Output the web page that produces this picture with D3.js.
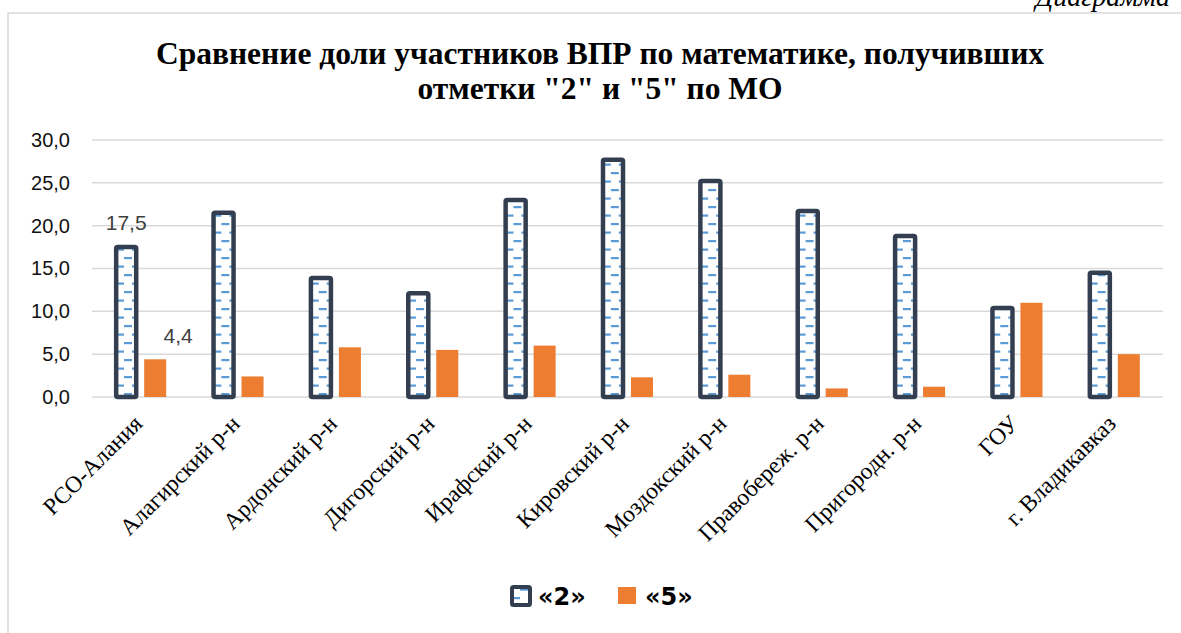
<!DOCTYPE html>
<html>
<head>
<meta charset="utf-8">
<script src="https://cdn.jsdelivr.net/npm/d3@7"></script>
<style>
  html, body { margin: 0; padding: 0; background: #fff; }
  svg { display: block; }
</style>
</head>
<body>
<svg id="chart" width="1181" height="633"></svg>
<script>
const categories = ['РСО-Алания', 'Алагирский р-н', 'Ардонский р-н', 'Дигорский р-н', 'Ирафский р-н',
  'Кировский р-н', 'Моздокский р-н', 'Правобереж. р-н', 'Пригородн. р-н', 'ГОУ', 'г. Владикавказ'];
const seriesNames = ['«2»', '«5»'];
const values2 = [17.5, 21.5, 13.9, 12.1, 23.0, 27.7, 25.2, 21.7, 18.8, 10.4, 14.5];
const values5 = [4.4, 2.4, 5.8, 5.5, 6.0, 2.3, 2.6, 1.0, 1.2, 11.0, 5.0];
const yTicks = [0, 5, 10, 15, 20, 25, 30];
const titleLines = ['Сравнение доли участников ВПР по математике, получивших', 'отметки "2" и "5" по МО'];

const width = 1181;
const height = 633;
const margin = { top: 140, right: 18, bottom: 236, left: 92 };

const svg = d3.select('#chart');
const fmt = v => d3.format('.1f')(v).replace('.', ',');

const defs = svg.append('defs');
const pat = defs.append('pattern')
  .attr('id', 'dash')
  .attr('patternUnits', 'userSpaceOnUse')
  .attr('width', 16)
  .attr('height', 17);
pat.append('rect').attr('width', 16).attr('height', 17).attr('fill', '#fff');
pat.append('rect').attr('x', 0).attr('y', 2).attr('width', 8).attr('height', 2.2).attr('fill', '#5b9bd5');
pat.append('rect').attr('x', 8).attr('y', 10.5).attr('width', 8).attr('height', 2.2).attr('fill', '#5b9bd5');

// frame
svg.append('path')
  .attr('d', `M8,${height} V13 H${width}`)
  .attr('fill', 'none')
  .attr('stroke', '#d9d9d9')
  .attr('stroke-width', 1.5);

// caption of the page above, cut by the picture edge as in the original
svg.append('text')
  .attr('x', 1170)
  .attr('y', 6)
  .attr('text-anchor', 'end')
  .attr('font-family', 'Liberation Serif')
  .attr('font-style', 'italic')
  .attr('font-size', 28)
  .text('Диаграмма');

// title
svg.append('text')
  .attr('text-anchor', 'middle')
  .attr('font-family', 'Liberation Serif')
  .attr('font-weight', 'bold')
  .attr('font-size', 31.5)
  .selectAll('tspan')
  .data(titleLines)
  .join('tspan')
  .attr('x', 600)
  .attr('y', (d, i) => 64 + i * 35)
  .text(d => d);

const x0 = d3.scaleBand()
  .domain(categories)
  .range([margin.left, width - margin.right]);

const x1 = d3.scaleBand()
  .domain(seriesNames)
  .range([0, x0.bandwidth()])
  .paddingInner(0.24)
  .paddingOuter(0.8);

const y = d3.scaleLinear()
  .domain([0, 30])
  .range([397, margin.top]);

// grid
svg.append('g')
  .selectAll('line')
  .data(yTicks)
  .join('line')
  .attr('x1', margin.left)
  .attr('x2', width - margin.right)
  .attr('y1', d => y(d))
  .attr('y2', d => y(d))
  .attr('stroke', '#d9d9d9')
  .attr('stroke-width', 1.5);

const yAxis = svg.append('g')
  .attr('transform', 'translate(70,0)')
  .call(d3.axisLeft(y).tickValues(yTicks).tickSize(0).tickPadding(0).tickFormat(fmt))
  .call(g => g.select('.domain').remove());
yAxis.selectAll('text')
  .attr('font-family', 'Liberation Sans')
  .attr('font-size', 20)
  .attr('fill', '#111');

// bars
const rows = categories.map((c, i) => ({ cat: c, v2: values2[i], v5: values5[i] }));

const groups = svg.append('g')
  .selectAll('g')
  .data(rows)
  .join('g')
  .attr('transform', d => `translate(${x0(d.cat)},0)`);

groups.append('rect')
  .attr('x', x1('«5»'))
  .attr('y', d => y(d.v5))
  .attr('width', x1.bandwidth())
  .attr('height', d => y(0) - y(d.v5))
  .attr('fill', '#ed7d31');

groups.append('rect')
  .attr('x', x1('«2»') + 1)
  .attr('y', d => y(d.v2))
  .attr('width', x1.bandwidth() - 2)
  .attr('height', d => y(0) - y(d.v2))
  .attr('rx', 1.5)
  .attr('fill', 'url(#dash)')
  .attr('stroke', '#333f50')
  .attr('stroke-width', 4.5);

// data labels on the first category
const first = rows[0];
svg.append('text')
  .attr('x', x0(first.cat) + x1('«2»') + x1.bandwidth() / 2)
  .attr('y', y(first.v2) - 17)
  .attr('text-anchor', 'middle')
  .attr('font-family', 'Liberation Sans')
  .attr('font-size', 21)
  .attr('fill', '#404040')
  .text(fmt(first.v2));
svg.append('text')
  .attr('x', x0(first.cat) + x1('«5»') + x1.bandwidth() / 2 + 23)
  .attr('y', y(first.v5) - 16)
  .attr('text-anchor', 'middle')
  .attr('font-family', 'Liberation Sans')
  .attr('font-size', 21)
  .attr('fill', '#404040')
  .text(fmt(first.v5));

// x labels
svg.append('g')
  .selectAll('text')
  .data(categories)
  .join('text')
  .attr('transform', d => `translate(${x0(d) + x0.bandwidth() / 2 + 3},425) rotate(-45)`)
  .attr('text-anchor', 'end')
  .attr('font-family', 'Liberation Serif')
  .attr('font-size', 23.5)
  .attr('fill', '#000')
  .text(d => d);

// legend
const legend = svg.append('g');
legend.append('rect')
  .attr('x', 512).attr('y', 587).attr('width', 18).attr('height', 18).attr('rx', 1.5)
  .attr('fill', 'url(#dash)').attr('stroke', '#333f50').attr('stroke-width', 4);
legend.append('rect')
  .attr('x', 618).attr('y', 587).attr('width', 18).attr('height', 17)
  .attr('fill', '#ed7d31');
legend.selectAll('text.lg')
  .data(seriesNames)
  .join('text')
  .attr('class', 'lg')
  .attr('x', (d, i) => i === 0 ? 538 : 645)
  .attr('y', 605)
  .attr('font-family', 'DejaVu Sans')
  .attr('font-weight', 'bold')
  .attr('font-size', 24)
  .attr('fill', '#000')
  .text(d => d);
</script>
</body>
</html>
